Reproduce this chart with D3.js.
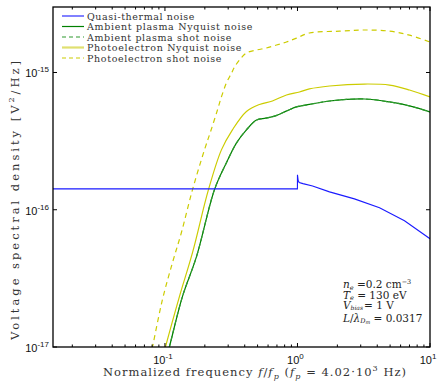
<!DOCTYPE html>
<html>
<head>
<meta charset="utf-8">
<script src="https://cdn.jsdelivr.net/npm/d3@7"></script>
<style>
  body { margin: 0; background: #fff; }
  svg text { font-family: "DejaVu Serif", "Liberation Serif", serif; }
</style>
</head>
<body>
<div class="chart"></div>
<script>
// values (f / fp, PSD in V^2/Hz)
const qtnF = [0.0143, 0.5, 0.999, 1.0, 1.012, 1.03, 1.1, 1.3, 1.745, 2.69, 4.16, 6.42, 10];
const qtnP = [1.42e-16, 1.42e-16, 1.42e-16, 1.80e-16, 1.63e-16, 1.58e-16, 1.55e-16, 1.49e-16, 1.35e-16, 1.20e-16, 1.035e-16, 8.32e-17, 6.15e-17];

const ambF = [0.09, 0.108, 0.1355, 0.173, 0.2364, 0.291, 0.347, 0.412, 0.491, 0.58, 0.69, 0.83, 0.983, 1.23, 1.745, 3.2, 4.95, 7.0, 10];
const ambP = [5.1e-18, 1.0e-17, 2.33e-17, 4.55e-17, 1.40e-16, 2.2e-16, 3.07e-16, 3.82e-16, 4.5e-16, 4.65e-16, 4.85e-16, 5.25e-16, 5.61e-16, 5.85e-16, 6.2e-16, 6.41e-16, 6.1e-16, 5.71e-16, 5.16e-16];

const phNyqF = [0.0833, 0.1009, 0.1286, 0.1614, 0.213, 0.2668, 0.323, 0.412, 0.517, 0.647, 0.826, 1.035, 1.23, 1.745, 3.2, 4.95, 7.0, 10];
const phNyqP = [4.9e-18, 1.0e-17, 2.33e-17, 4.87e-17, 1.40e-16, 2.73e-16, 3.82e-16, 5.2e-16, 5.85e-16, 6.2e-16, 6.86e-16, 7.21e-16, 7.59e-16, 7.97e-16, 8.24e-16, 8.1e-16, 7.46e-16, 6.64e-16];

const phShotF = [0.070, 0.0805, 0.0957, 0.114, 0.133, 0.1614, 0.1987, 0.2205, 0.249, 0.2668, 0.291, 0.318, 0.335, 0.365, 0.412, 0.491, 0.583, 0.695, 0.826, 0.983, 1.23, 2.075, 3.2, 4.95, 7.0, 10];
const phShotP = [5.4e-18, 1.0e-17, 2.21e-17, 4.12e-17, 6.8e-17, 1.40e-16, 2.73e-16, 3.69e-16, 5.33e-16, 6.64e-16, 8.39e-16, 9.91e-16, 1.096e-15, 1.233e-15, 1.387e-15, 1.458e-15, 1.508e-15, 1.585e-15, 1.667e-15, 1.78e-15, 1.94e-15, 2.0e-15, 2.04e-15, 2.0e-15, 1.87e-15, 1.667e-15];

const legendNames = ["Quasi-thermal noise", "Ambient plasma Nyquist noise", "Ambient plasma shot noise",
                     "Photoelectron Nyquist noise", "Photoelectron shot noise"];
const legendWidths = [108, 166, 145, 155, 135];
const xTickExp = [-1, 0, 1];
const yTickExp = [-17, -16, -15];

const width = 437, height = 383;
const margin = {top: 7, right: 7, bottom: 36, left: 53};
const w = width - margin.left - margin.right;
const h = height - margin.top - margin.bottom;

const x = d3.scaleLog().domain([0.0143, 10]).range([0, w]);
const y = d3.scaleLog().domain([1e-17, 3e-15]).range([h, 0]);

const svg = d3.select('.chart').append('svg')
  .attr('width', width).attr('height', height);

const g = svg.append('g')
  .attr('transform', 'translate(' + margin.left + ',' + margin.top + ')');

svg.append('defs').append('clipPath').attr('id', 'clip')
  .append('rect').attr('width', w).attr('height', h);

const smooth = d3.line().x(d => x(d[0])).y(d => y(d[1])).curve(d3.curveCatmullRom.alpha(0.5));
const straight = d3.line().x(d => x(d[0])).y(d => y(d[1]));
const zip = (a, b) => a.map((v, i) => [v, b[i]]);

const series = [
  {f: qtnF, p: qtnP, color: '#1a1aff', dash: null, sw: 1.1, gen: straight},
  {f: ambF, p: ambP, color: '#008000', dash: null, sw: 1.2, gen: smooth},
  {f: ambF, p: ambP, color: '#2e9a2e', dash: '5,3', sw: 1.2, gen: smooth},
  {f: phNyqF, p: phNyqP, color: '#cccc00', dash: null, sw: 1.2, gen: smooth},
  {f: phShotF, p: phShotP, color: '#cccc00', dash: '5,4', sw: 1.2, gen: smooth}
];

const plot = g.append('g').attr('clip-path', 'url(#clip)');
// draw order: yellow under green under blue
[4, 3, 1, 2, 0].forEach(i => {
  const s = series[i];
  plot.append('path')
    .datum(zip(s.f, s.p))
    .attr('d', s.gen)
    .attr('fill', 'none')
    .attr('stroke', s.color)
    .attr('stroke-width', s.sw)
    .attr('stroke-dasharray', s.dash);
});

// inward ticks (box style)
const xMajor = xTickExp.map(e => Math.pow(10, e));
const xMinor = [];
for (let e = -2; e < 1; e++) for (let k = 2; k <= 9; k++) {
  const v = k * Math.pow(10, e);
  if (v >= 0.0143 && v <= 10) xMinor.push(v);
}
const yMajor = yTickExp.map(e => Math.pow(10, e));

function ticks(sel, vals, len) {
  vals.forEach(v => {
    const px = x(v);
    sel.append('line').attr('x1', px).attr('x2', px).attr('y1', h).attr('y2', h - len);
    sel.append('line').attr('x1', px).attr('x2', px).attr('y1', 0).attr('y2', len);
  });
}
const tk = g.append('g').attr('stroke', '#000').attr('stroke-width', 1);
ticks(tk, xMajor, 4);
ticks(tk, xMinor, 2.5);
yMajor.forEach(v => {
  const py = y(v);
  tk.append('line').attr('x1', 0).attr('x2', 4).attr('y1', py).attr('y2', py);
  tk.append('line').attr('x1', w).attr('x2', w - 4).attr('y1', py).attr('y2', py);
});

g.append('rect').attr('width', w).attr('height', h)
  .attr('fill', 'none').attr('stroke', '#000').attr('stroke-width', 1.3);

// tick labels
function powLabel(sel, e, px, py, anchor) {
  const t = sel.append('text').attr('x', px).attr('y', py)
    .attr('text-anchor', anchor)
    .style('font-family', '"Liberation Sans", Arial, sans-serif')
    .style('font-size', '11px').attr('fill', '#111');
  t.append('tspan').text('10');
  t.append('tspan').attr('dy', -5).style('font-size', '8px').text(e);
}
xTickExp.forEach(e => powLabel(g, e, x(Math.pow(10, e)) - 2, h + 17, 'middle'));
yTickExp.forEach(e => powLabel(g, e, -4, y(Math.pow(10, e)) + 5, 'end'));

// fit a text to a width: shrink the font if too wide, else add letter spacing
function fitWidth(sel, target, size) {
  sel.style('font-size', size + 'px');
  const natural = sel.node().getComputedTextLength();
  if (natural > target) {
    sel.style('font-size', (size * target / natural) + 'px');
  } else {
    sel.style('letter-spacing', ((target - natural) / sel.text().length) + 'px');
  }
}

// axis titles
const xt = svg.append('text')
  .attr('x', 103).attr('y', 376).attr('fill', '#333');
xt.append('tspan').text('Normalized frequency ');
xt.append('tspan').style('font-style', 'italic').text('f');
xt.append('tspan').text('/');
xt.append('tspan').style('font-style', 'italic').text('f');
xt.append('tspan').attr('dy', 3).style('font-size', '8px').style('font-style', 'italic').text('p');
xt.append('tspan').attr('dy', -3).text(' (');
xt.append('tspan').style('font-style', 'italic').text('f');
xt.append('tspan').attr('dy', 3).style('font-size', '8px').style('font-style', 'italic').text('p');
xt.append('tspan').attr('dy', -3).text(' = 4.02·10');
xt.append('tspan').attr('dy', -5).style('font-size', '8px').text('3');
xt.append('tspan').attr('dy', 5).text(' Hz)');
fitWidth(xt, 304, 11.5);

const yt = svg.append('text')
  .attr('transform', 'translate(19,340) rotate(-90)').attr('fill', '#333');
yt.append('tspan').text('Voltage spectral density [V');
yt.append('tspan').attr('dy', -5).style('font-size', '8px').text('2');
yt.append('tspan').attr('dy', 5).text('/Hz]');
fitWidth(yt, 282, 11.5);

// legend
const lg = g.append('g').attr('transform', 'translate(9,9)');
legendNames.forEach((name, i) => {
  const s = series[i];
  const row = lg.append('g').attr('transform', 'translate(0,' + (i * 10.5) + ')');
  row.append('line').attr('x1', 0).attr('x2', 22).attr('y1', 0).attr('y2', 0)
    .attr('stroke', i == 3 ? '#e0e070' : s.color).attr('stroke-width', i == 3 ? 2.2 : s.sw)
    .attr('stroke-dasharray', s.dash ? '4,3' : null);
  const tx = row.append('text').attr('x', 25).attr('y', 3.5)
    .attr('fill', '#333').text(name);
  fitWidth(tx, legendWidths[i], 9.5);
});

// parameter box
const ann = g.append('g').attr('transform', 'translate(290,281)')
  .style('font-size', '10.5px').attr('fill', '#222');
let t = ann.append('text').attr('y', 0);
t.append('tspan').style('font-style', 'italic').text('n');
t.append('tspan').attr('dy', 1.5).style('font-size', '6.5px').style('font-style', 'italic').text('e');
t.append('tspan').attr('dy', -1.5).text(' =0.2 cm');
t.append('tspan').attr('dy', -4).style('font-size', '6.5px').text('−3');
t = ann.append('text').attr('y', 10.5);
t.append('tspan').style('font-style', 'italic').text('T');
t.append('tspan').attr('dy', 1.5).style('font-size', '6.5px').style('font-style', 'italic').text('e');
t.append('tspan').attr('dy', -1.5).text(' = 130 eV');
t = ann.append('text').attr('y', 21);
t.append('tspan').style('font-style', 'italic').text('V');
t.append('tspan').attr('dy', 1).style('font-size', '6px').style('font-style', 'italic').text('bias');
t.append('tspan').attr('dy', -1).attr('dx', 1).text('= 1 V');
t = ann.append('text').attr('y', 33.5);
t.append('tspan').style('font-style', 'italic').text('L');
t.append('tspan').text('/');
t.append('tspan').style('font-style', 'italic').text('λ');
t.append('tspan').attr('dy', 1.5).style('font-size', '6.5px').style('font-style', 'italic').text('D');
t.append('tspan').attr('dy', 1).style('font-size', '5px').style('font-style', 'italic').text('m');
t.append('tspan').attr('dy', -2.5).text(' = 0.0317');
</script>
</body>
</html>
